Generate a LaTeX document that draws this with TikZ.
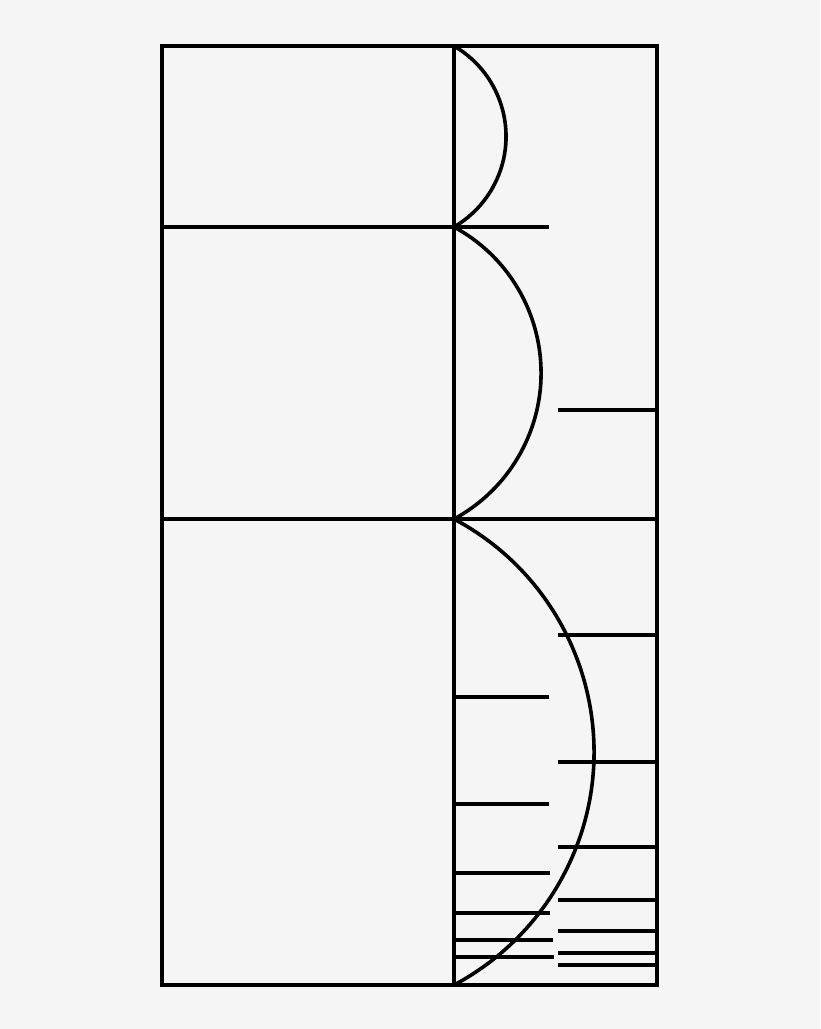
\documentclass[tikz,border=0pt]{standalone}
\begin{document}
\begin{tikzpicture}[x=1pt,y=1pt,
  ln/.style={line width=4pt,black},
  arcln/.style={line width=3.6pt,black}]
\fill[fill={rgb,255:red,245;green,245;blue,245}] (0,0) rectangle (820,1029);
\useasboundingbox (0,0) rectangle (820,1029);
% frame
\coordinate (TL) at (162,983);
\coordinate (BR) at (657,44);
\draw[ln] (TL) rectangle (BR);
% main vertical
\coordinate (vt) at (454,983);
\coordinate (vb) at (454,44);
\draw[ln] (vt) -- (vb);
% horizontals
\draw[ln] (162,802) -- (549,802);
\draw[ln] (162,510) -- (657,510);
% arcs
\draw[arcln] (454,983) arc[start angle=59.8, end angle=-59.8, radius=104.7];
\draw[arcln] (454,802) arc[start angle=61.6, end angle=-61.6, radius=166];
\draw[arcln] (454,510) arc[start angle=62.0, end angle=-62.0, radius=263.9];
% right short lines
\foreach \y in {619,394,267,182,129,98,76,64}
  \draw[ln] (558,\y) -- (657,\y);
% left short lines
\foreach \y/\x in {332/549,225/549,156/550,116/550,89/553,72/554}
  \draw[ln] (454,\y) -- (\x,\y);
\end{tikzpicture}
\end{document}
